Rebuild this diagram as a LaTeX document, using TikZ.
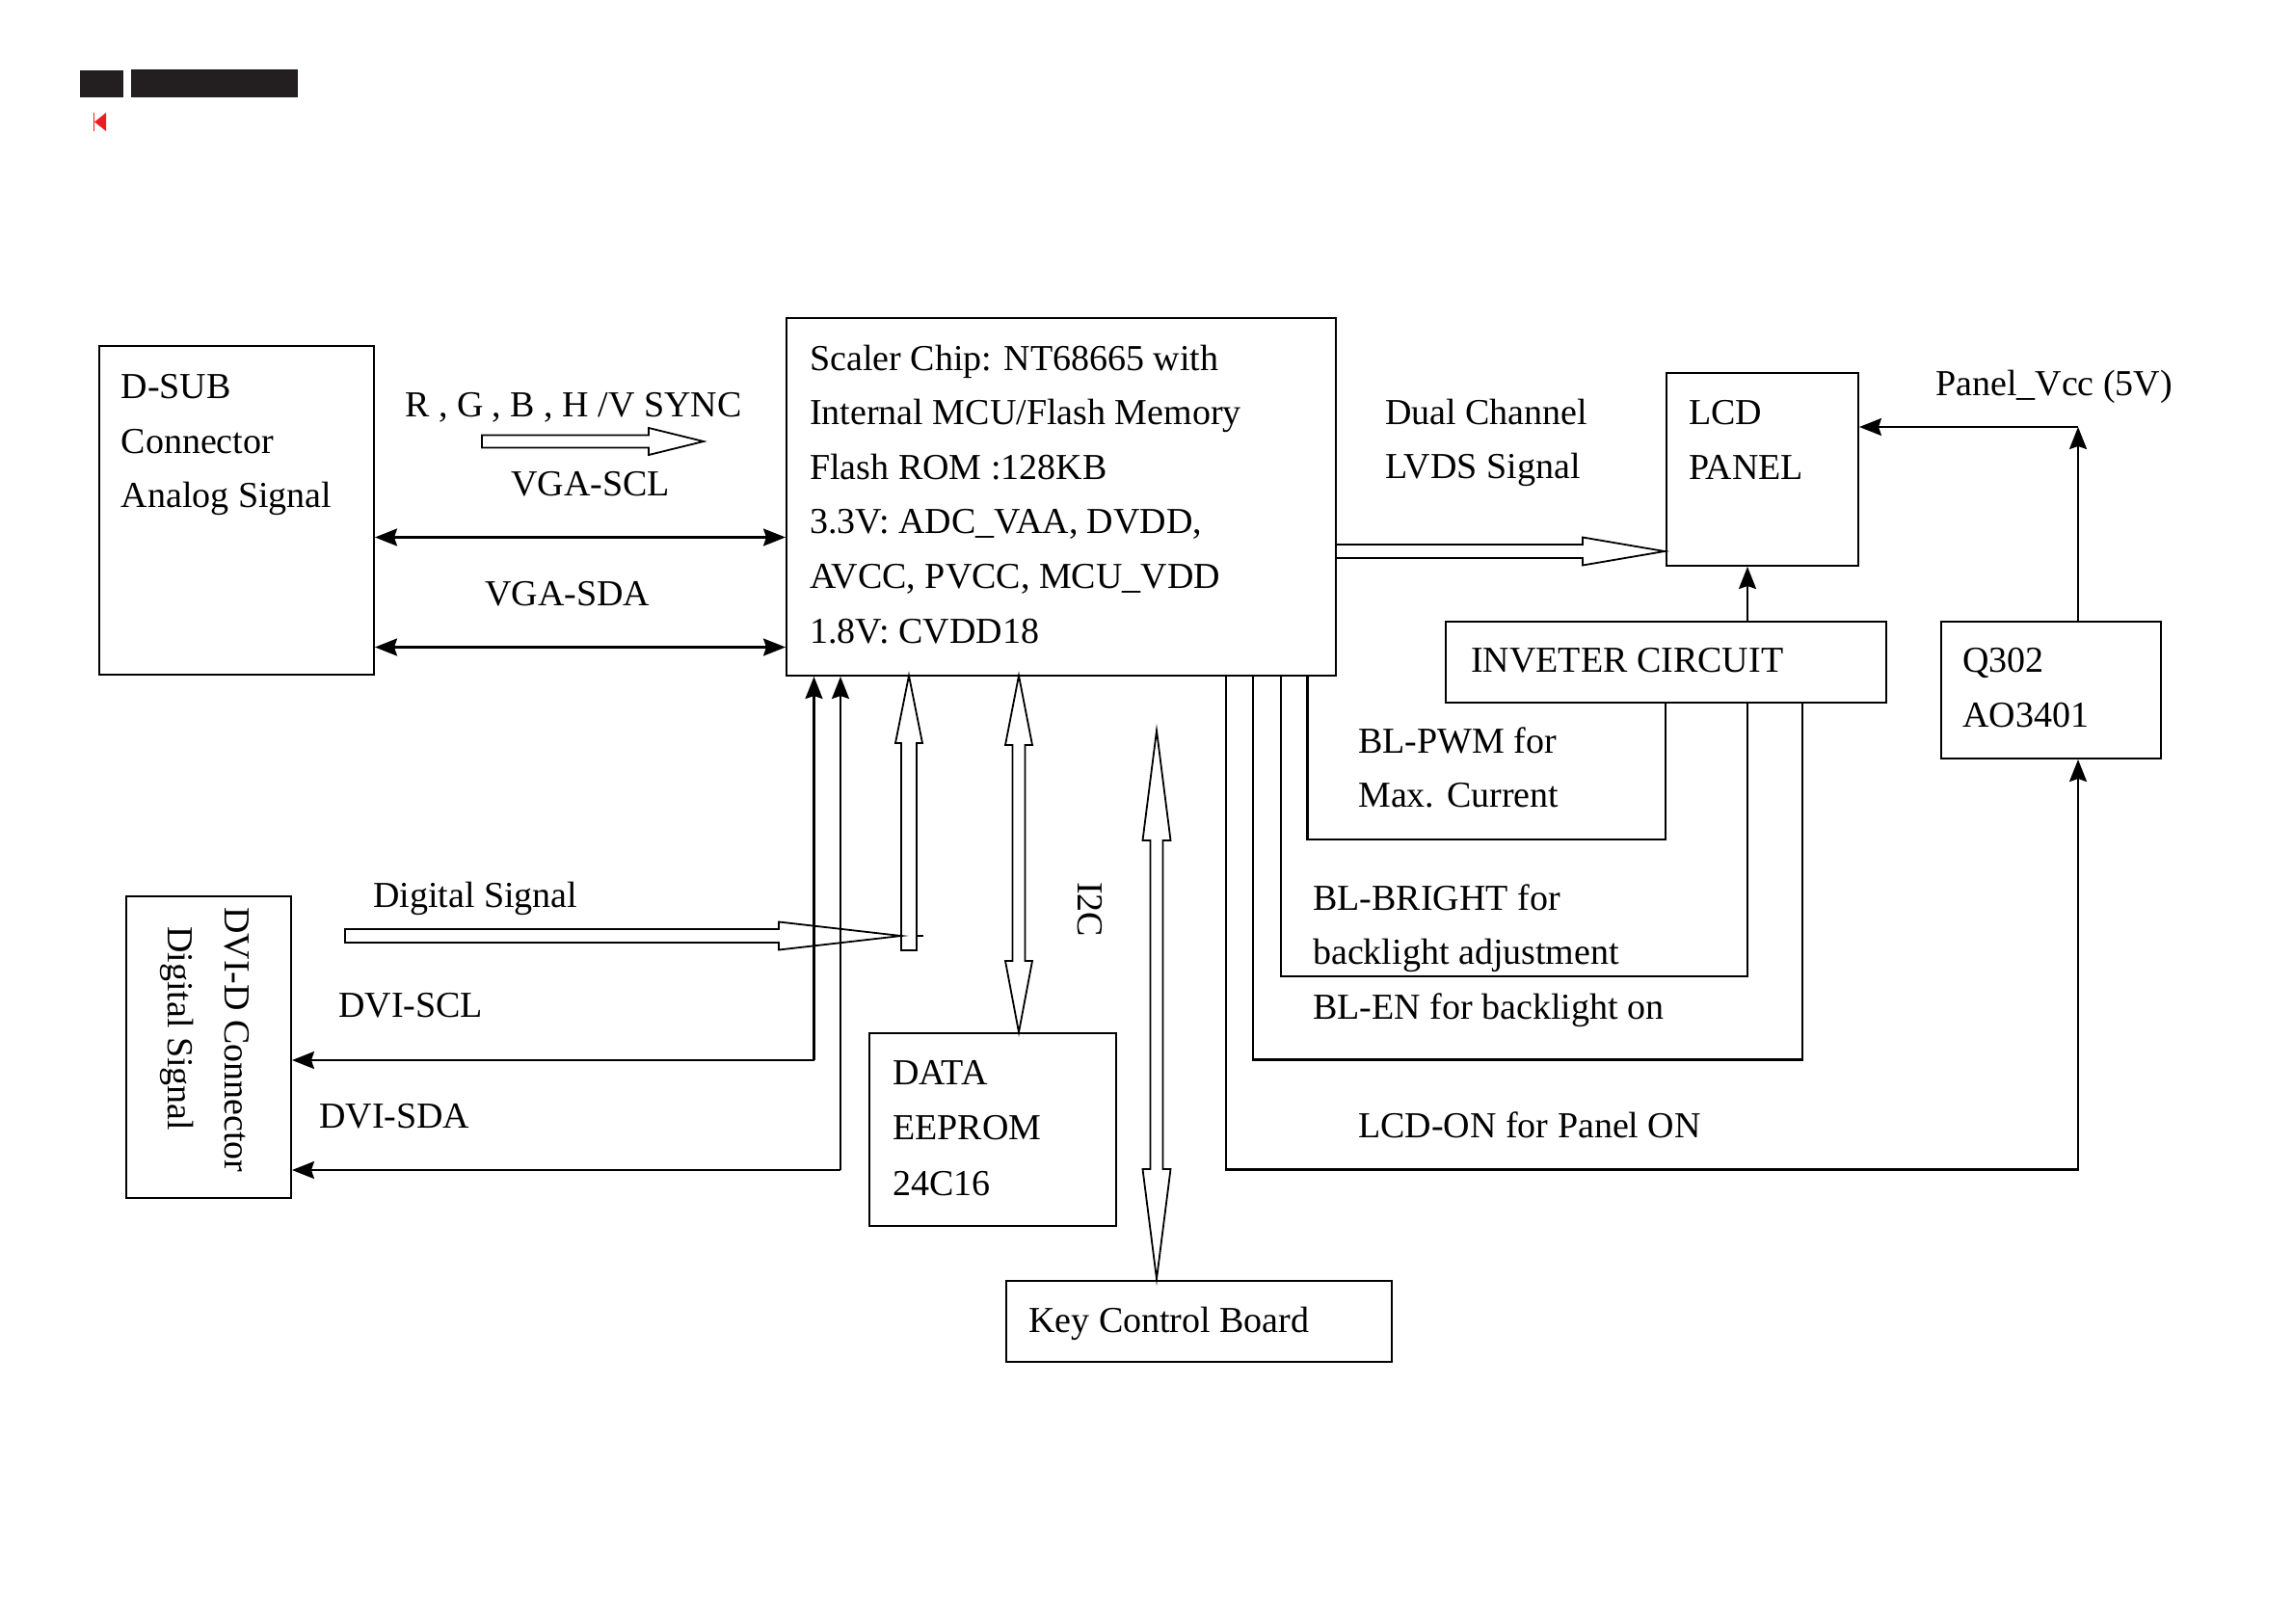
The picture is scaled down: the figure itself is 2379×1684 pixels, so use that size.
\documentclass[tikz,border=0pt]{standalone}
\usepackage{fontspec}
\setmainfont{Liberation Serif}
\usetikzlibrary{arrows.meta}
\definecolor{barblack}{HTML}{231F20}
\definecolor{markred}{HTML}{ED1C24}
\newcommand{\hollowRight}[6]{% x0, y, head base x, tip x, shaft half, head half
  \draw[hollow] (#1,#2-#5) -- (#3,#2-#5) -- (#3,#2-#6) -- (#4,#2) -- (#3,#2+#6) -- (#3,#2+#5) -- (#1,#2+#5) -- cycle;}
\newcommand{\hollowUp}[6]{% x, bottom y, head base y, tip y, shaft half, head half
  \draw[hollow] (#1-#5,#2) -- (#1-#5,#3) -- (#1-#6,#3) -- (#1,#4) -- (#1+#6,#3) -- (#1+#5,#3) -- (#1+#5,#2) -- cycle;}
\newcommand{\hollowBoth}[7]{% x, top tip, top base, bottom base, bottom tip, shaft half, head half
  \draw[hollow] (#1,#2) -- (#1+#7,#3) -- (#1+#6,#3) -- (#1+#6,#4) -- (#1+#7,#4) -- (#1,#5) -- (#1-#7,#4) -- (#1-#6,#4) -- (#1-#6,#3) -- (#1-#7,#3) -- cycle;}
\begin{document}
\begin{tikzpicture}[x=1pt,y=-1pt,
  box/.style={draw, line width=2pt, inner sep=0pt, anchor=north west},
  lbl/.style={anchor=base west, inner sep=0pt, font=\fontsize{38}{46}\selectfont},
  wire/.style={line width=2.2pt},
  arr/.style={wire, -{Stealth[length=23pt,width=18pt,inset=3pt]}},
  dblarr/.style={wire, {Stealth[length=23pt,width=18pt,inset=3pt]}-{Stealth[length=23pt,width=18pt,inset=3pt]}},
  hollow/.style={line width=1.8pt, line join=miter},
]
\useasboundingbox (0,0) rectangle (2379,1684);

% header
\fill[barblack] (83,73) rectangle (128,101);
\fill[barblack] (136,72) rectangle (309,101);
\draw[markred, line width=1.5pt] (97.5,117) -- (97.5,136);
\fill[markred] (110,117) -- (110,136) -- (98,126.5) -- cycle;

% boxes
\node[box, minimum width=285pt, minimum height=341pt] (dsub) at (102,358) {};
\node[box, minimum width=570pt, minimum height=371pt] (scaler) at (815,329) {};
\node[box, minimum width=199pt, minimum height=200pt] (lcd) at (1728,386) {};
\node[box, minimum width=457pt, minimum height=84pt] (inv) at (1499,644) {};
\node[box, minimum width=228pt, minimum height=142pt] (q302) at (2013,644) {};
\node[box, minimum width=171pt, minimum height=313pt] (dvi) at (130,929) {};
\node[box, minimum width=256pt, minimum height=200pt] (eeprom) at (901,1071) {};
\node[box, minimum width=400pt, minimum height=84pt] (key) at (1043,1328) {};

% texts in boxes
\node[lbl] (t1) at (125.5,413) {D-SUB};
\node[lbl] (t2) at (125.5,470) {Connector};
\node[lbl] (t3) at (125.5,526) {Analog Signal};
\node[lbl] (s1) at (840,384) {Scaler Chip: NT68665 with};
\node[lbl] (s2) at (840,440) {Internal MCU/Flash Memory};
\node[lbl] (s3) at (840,497) {Flash ROM :128KB};
\node[lbl] (s4) at (840,553) {3.3V: ADC\_VAA, DVDD,};
\node[lbl] (s5) at (840,610) {AVCC, PVCC, MCU\_VDD};
\node[lbl] (s6) at (840,667) {1.8V: CVDD18};
\node[lbl] (l1) at (1752,440) {LCD};
\node[lbl] (l2) at (1752,497) {PANEL};
\node[lbl] (i1) at (1526,697) {INVETER CIRCUIT};
\node[lbl] (q1) at (2036,697) {Q302};
\node[lbl] (q2) at (2036,754) {AO3401};
\node[lbl, rotate=-90] (v1) at (233,941) {DVI-D Connector};
\node[lbl, rotate=-90] (v2) at (174,961) {Digital Signal};
\node[lbl] (e1) at (926,1125) {DATA};
\node[lbl] (e2) at (926,1182) {EEPROM};
\node[lbl] (e3) at (926,1240) {24C16};
\node[lbl] (k1) at (1067,1382) {Key Control Board};

% signal labels
\node[lbl] (rgb) at (420,432) {R , G , B , H /V SYNC};
\node[lbl] (vscl) at (530,514) {VGA-SCL};
\node[lbl] (vsda) at (503,628) {VGA-SDA};
\node[lbl] (dual1) at (1437,440) {Dual Channel};
\node[lbl] (dual2) at (1437,496) {LVDS Signal};
\node[lbl] (pvcc) at (2008,410) {Panel\_Vcc (5V)};
\node[lbl] (pwm1) at (1409,781) {BL-PWM for};
\node[lbl] (pwm2) at (1409,837) {Max. Current};
\node[lbl] (br1) at (1362,944) {BL-BRIGHT for};
\node[lbl] (br2) at (1362,1000) {backlight adjustment};
\node[lbl] (en1) at (1362,1057) {BL-EN for backlight on};
\node[lbl] (on1) at (1409,1180) {LCD-ON for Panel ON};
\node[lbl] (dig) at (387,941) {Digital Signal};
\node[lbl] (dscl) at (351,1055) {DVI-SCL};
\node[lbl] (dsda) at (331,1170) {DVI-SDA};
\node[lbl, rotate=-90] (i2c) at (1118,915) {I2C};

% VGA I2C lines
\coordinate (sclY) at (0,557.5);
\coordinate (sdaY) at (0,671.5);
\draw[dblarr] (dsub.east |- sclY) -- (scaler.west |- sclY);
\draw[dblarr] (dsub.east |- sdaY) -- (scaler.west |- sdaY);

% DVI I2C lines
\coordinate (dsclC) at (844.5,1100);
\coordinate (dsdaC) at (872,1214);
\draw[arr] (dsclC) -- (dvi.east |- dsclC);
\draw[arr] (dsclC) -- (scaler.south -| dsclC);
\draw[arr] (dsdaC) -- (dvi.east |- dsdaC);
\draw[arr] (dsdaC) -- (scaler.south -| dsdaC);

% control lines to inverter / Q302
\coordinate (pwmC) at (1356.5,871);   \coordinate (pwmR) at (1728,0);
\coordinate (brC) at (1329,1013);     \coordinate (brR) at (1813,0);
\coordinate (enC) at (1300,1099.5);   \coordinate (enR) at (1870,0);
\coordinate (onC) at (1272,1213.5);   \coordinate (onR) at (2156,0);
\draw[wire] (pwmC |- scaler.south) -- (pwmC) -| (pwmR |- inv.south);
\draw[wire] (brC |- scaler.south) -- (brC) -| (brR |- inv.south);
\draw[wire] (enC |- scaler.south) -- (enC) -| (enR |- inv.south);
\draw[arr] (onC |- scaler.south) -- (onC) -| (onR |- q302.south);

% inverter -> LCD, Q302 -> LCD
\draw[arr] (brR |- inv.north) -- (brR |- lcd.south);
\coordinate (vccC) at (2156,443);
\draw[arr] (vccC |- q302.north) -- (vccC);
\draw[arr] (vccC) -- (lcd.east |- vccC);

% hollow bus arrows
\hollowRight{500}{458}{673}{730}{6.5}{14}
\hollowRight{1386}{572}{1642}{1727}{7}{14.5}
\hollowRight{358}{971}{808}{935}{7}{14.5}
\hollowUp{943}{986}{771}{701}{8}{14}
\draw[wire] (951,971) -- (958,971);
\hollowBoth{1057}{701}{773}{997}{1071}{6.5}{14}
\hollowBoth{1200}{758}{872}{1213}{1327}{6.5}{14.5}

\end{tikzpicture}
\end{document}
